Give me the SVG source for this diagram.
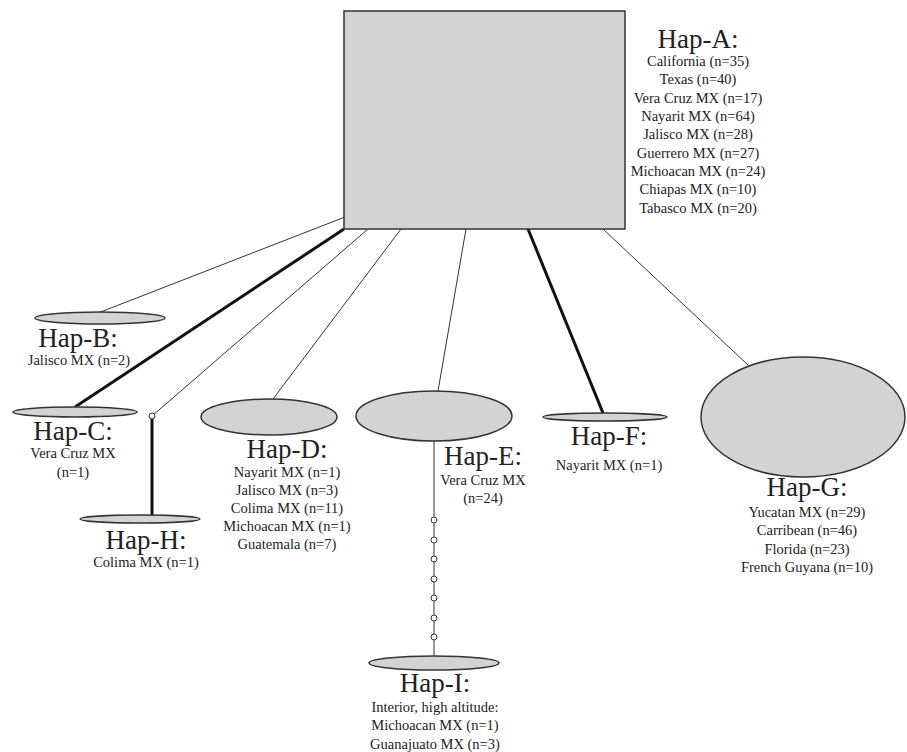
<svg xmlns="http://www.w3.org/2000/svg" width="907" height="752" viewBox="0 0 907 752">
<style>
.node{fill:#d3d3d3;stroke:#333;stroke-width:1.5}
.thin{stroke:#333;stroke-width:1;fill:none}
.thick{stroke:#111;stroke-width:3;fill:none}
.dot{fill:#fff;stroke:#333;stroke-width:1}
text{font-family:"Liberation Serif","Times New Roman",serif;fill:#222;text-anchor:middle}
.t{font-size:27px}
.s{font-size:14.5px}
</style>
<rect width="907" height="752" fill="#fff"/>
<g id="connectors">
<line class="thin" x1="345" y1="217" x2="98" y2="313"/>
<line class="thick" x1="344" y1="229" x2="75" y2="407"/>
<line class="thin" x1="368" y1="229" x2="152" y2="416"/>
<line class="thick" x1="152" y1="416" x2="152" y2="515"/>
<line class="thin" x1="401" y1="229" x2="273" y2="399"/>
<line class="thin" x1="466" y1="229" x2="438" y2="391"/>
<line class="thick" x1="528" y1="229" x2="603" y2="413"/>
<line class="thin" x1="603" y1="229" x2="748" y2="365"/>
<line class="thin" x1="434" y1="441" x2="434" y2="656"/>
<circle class="dot" cx="152" cy="416" r="3"/>
<circle class="dot" cx="434" cy="520" r="3"/>
<circle class="dot" cx="434" cy="540" r="3"/>
<circle class="dot" cx="434" cy="559" r="3"/>
<circle class="dot" cx="434" cy="579" r="3"/>
<circle class="dot" cx="434" cy="598" r="3"/>
<circle class="dot" cx="434" cy="618" r="3"/>
<circle class="dot" cx="434" cy="637" r="3"/>
</g>
<g id="hapA">
<rect class="node" x="344" y="11" width="281" height="218"/>
<text class="t" x="698" y="48">Hap-A:</text>
<text class="s" x="698" y="66">California (n=35)</text>
<text class="s" x="698" y="84">Texas (n=40)</text>
<text class="s" x="698" y="103">Vera Cruz MX (n=17)</text>
<text class="s" x="698" y="121">Nayarit MX (n=64)</text>
<text class="s" x="698" y="139">Jalisco MX (n=28)</text>
<text class="s" x="698" y="158">Guerrero MX (n=27)</text>
<text class="s" x="698" y="176">Michoacan MX (n=24)</text>
<text class="s" x="698" y="194">Chiapas MX (n=10)</text>
<text class="s" x="698" y="213">Tabasco MX (n=20)</text>
</g>
<g id="hapB">
<ellipse class="node" cx="100" cy="318" rx="65" ry="6"/>
<text class="t" x="78" y="347">Hap-B:</text>
<text class="s" x="79" y="365">Jalisco MX (n=2)</text>
</g>
<g id="hapC">
<ellipse class="node" cx="75" cy="412" rx="62" ry="5"/>
<text class="t" x="73" y="440">Hap-C:</text>
<text class="s" x="73" y="458">Vera Cruz MX</text>
<text class="s" x="73" y="477">(n=1)</text>
</g>
<g id="hapH">
<ellipse class="node" cx="140" cy="519" rx="60" ry="4"/>
<text class="t" x="146" y="549">Hap-H:</text>
<text class="s" x="146" y="567">Colima MX (n=1)</text>
</g>
<g id="hapD">
<ellipse class="node" cx="269" cy="417" rx="68" ry="18"/>
<text class="t" x="287" y="458">Hap-D:</text>
<text class="s" x="287" y="477">Nayarit MX (n=1)</text>
<text class="s" x="287" y="495">Jalisco MX (n=3)</text>
<text class="s" x="287" y="513">Colima MX (n=11)</text>
<text class="s" x="287" y="531">Michoacan MX (n=1)</text>
<text class="s" x="287" y="549">Guatemala (n=7)</text>
</g>
<g id="hapE">
<ellipse class="node" cx="434" cy="416" rx="78" ry="25"/>
<text class="t" x="483" y="465">Hap-E:</text>
<text class="s" x="483" y="485">Vera Cruz MX</text>
<text class="s" x="483" y="503">(n=24)</text>
</g>
<g id="hapF">
<ellipse class="node" cx="605" cy="417" rx="62" ry="4"/>
<text class="t" x="609" y="445">Hap-F:</text>
<text class="s" x="609" y="470">Nayarit MX (n=1)</text>
</g>
<g id="hapG">
<ellipse class="node" cx="803" cy="417" rx="102" ry="60"/>
<text class="t" x="807" y="496">Hap-G:</text>
<text class="s" x="807" y="517">Yucatan MX (n=29)</text>
<text class="s" x="807" y="535">Carribean (n=46)</text>
<text class="s" x="807" y="554">Florida (n=23)</text>
<text class="s" x="807" y="572">French Guyana (n=10)</text>
</g>
<g id="hapI">
<ellipse class="node" cx="434" cy="663" rx="65" ry="7"/>
<text class="t" x="435" y="692">Hap-I:</text>
<text class="s" x="435" y="712">Interior, high altitude:</text>
<text class="s" x="435" y="730">Michoacan MX (n=1)</text>
<text class="s" x="435" y="749">Guanajuato MX (n=3)</text>
</g>
</svg>
